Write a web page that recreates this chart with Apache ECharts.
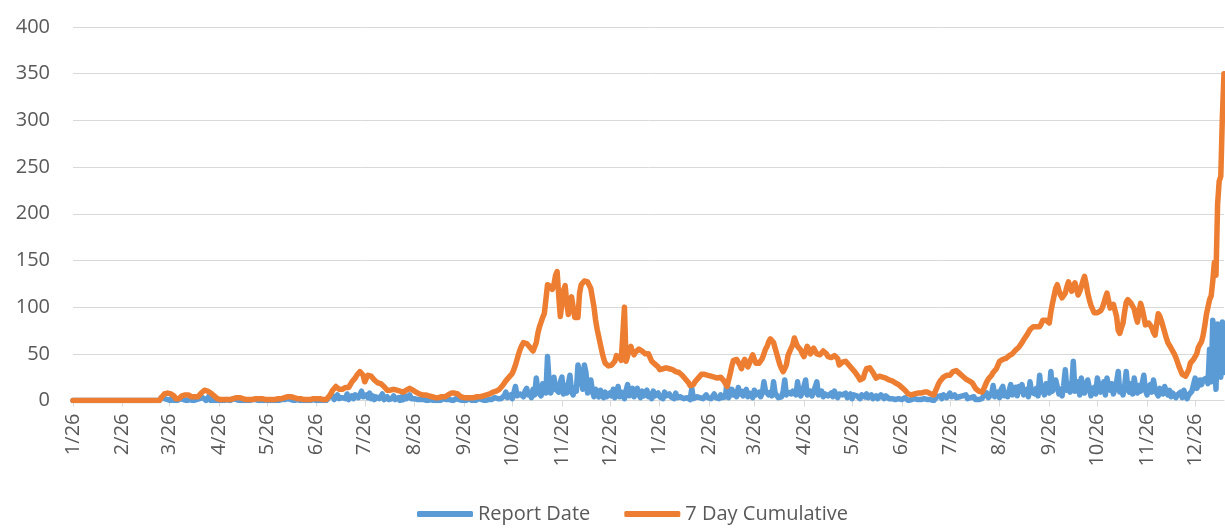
<!DOCTYPE html>
<html>
<head>
<meta charset="utf-8">
<title>Report Date vs 7 Day Cumulative</title>
<script src="https://cdn.jsdelivr.net/npm/echarts@6.0.0/dist/echarts.min.js"></script>
<style>
  html, body { margin: 0; padding: 0; background: #fff; }
  #chart { width: 1225px; height: 529px; }
</style>
</head>
<body>
<div id="chart"></div>
<script>
  // daily series, first day 2020-01-26, last day 2022-01-13
  const startDate = '2020-01-26'
  const dayCount = 719

  const yTicks = [0, 50, 100, 150, 200, 250, 300, 350, 400]

  // daily new reports (blue)
  const reportDate = [
    0,0,0,0,0,0,0,0,0,0, 0,0,0,0,0,0,0,0,0,0, 0,0,0,0,0,0,0,0,0,0, 0,0,0,0,0,0,0,0,0,0, 0,0,0,0,0,0,0,0,0,0,
    0,0,0,0,0,3,2,2,0,1, 0,0,4,0,0,0,1,2,1,1, 2,0,1,1,0,0,1,1,1,2, 4,3,1,0,1,5,0,0,0,1,
    0,0,0,1,0,0,1,0,0,1, 2,0,1,0,0,1,0,0,0,1, 0,0,1,0,1,0,0,1,0,0, 0,1,0,0,0,1,0,1,0,0,
    1,0,1,1,2,0,1,1,0,0, 1,0,0,1,0,0,0,1,0,0, 1,0,0,1,0,0,0,1,0,2,
    4,2,5,1,3,6,2,0,3,4, 2,7,1,3,5,2,6,8,3,5, 10,4,2,6,3,8,2,5,1,4, 6,2,3,7,1,2,4,1,3,2,
    5,1,2,3,0,4,1,5,2,1, 6,2,1,2,0,1,3,1,0,1, 2,0,0,1,1,0,2,0,1,0, 1,2,0,1,2,1,3,0,1,2,
    0,1,0,0,1,0,1,2,0,0, 1,0,1,2,0,1,1,0,2,1, 2,1,0,3,1,2,4,2,1,5,
    9,3,4,6,2,8,15,5,3,7, 8,4,10,13,6,9,3,12,6,24, 10,11,5,18,14,8,47,20,8,14,
    25,12,11,9,20,25,7,16,8,18, 27,9,6,14,10,38,38,24,12,38, 30,8,15,22,10,4,12,7,4,11,
    6,3,9,4,2,8,5,12,3,7, 15,4,9,6,2,11,17,5,8,13, 4,9,13,6,3,10,5,8,11,4,
    7,2,10,5,3,8,4,6,2,9, 5,3,7,4,6,2,8,3,5,4, 6,2,4,3,5,1,13,2,3,4, 6,3,5,2,4,6,3,5,2,4,
    7,3,4,2,6,3,1,4,20,3, 8,12,6,9,4,14,7,10,5,9, 12,4,8,10,3,11,6,5,9,4, 8,20,10,12,6,9,5,20,8,6,
    3,5,4,10,22,6,9,11,7,10, 12,6,20,8,5,9,7,22,6,8, 10,5,9,7,20,6,8,10,4,7,
    9,5,6,8,4,10,6,3,7,5, 6,4,8,3,5,7,2,6,4,5, 3,2,6,8,4,7,3,5,6,2,
    4,5,2,3,6,4,2,5,3,2, 4,2,3,1,3,2,4,1,2,3, 1,0,2,1,1,2,0,1,2,1, 1,2,0,1,2,1,3,0,2,4,
    3,5,2,6,4,3,5,8,4,2, 6,3,5,4,2,5,3,6,2,4, 3,2,4,1,2,1,3,2,5,4,
    8,3,5,7,16,4,6,9,3,12, 15,5,8,4,11,17,6,9,14,5, 15,10,17,6,8,12,4,20,9,11,
    7,13,5,27,9,14,6,18,12,8, 31,10,15,22,24,7,12,5,16,33, 11,18,9,14,42,10,16,20,6,24,
    13,8,17,22,20,5,11,14,7,24, 16,9,13,20,6,24,15,11,18,7, 12,20,31,9,14,6,15,31,12,9,
    18,7,24,13,8,16,10,9,27,11, 6,14,17,9,22,12,8,5,13,10, 7,15,9,6,11,4,8,7,3,6,
    4,9,3,11,5,2,6,4,10,8, 24,13,16,22,17,22,20,24,18,55, 20,86,84,12,82,80,25,84,30
  ]

  // rolling 7 day total (orange)
  const sevenDay = [
    0,0,0,0,0,0,0,0,0,0, 0,0,0,0,0,0,0,0,0,0, 0,0,0,0,0,0,0,0,0,0, 0,0,0,0,0,0,0,0,0,0, 0,0,0,0,0,0,0,0,0,0,
    0,0,0,0,0,3,5,7,7,8, 8,7,8,5,2,1,2,4,5,5, 6,5,6,6,4,3,4,4,4,5, 8,10,11,10,10,9,8,6,5,3,
    2,1,1,1,1,1,1,1,1,2, 2,2,3,3,3,2,2,1,1,1, 1,1,1,2,2,2,2,2,2,1, 1,1,1,1,1,1,1,2,2,2,
    2,2,3,3,4,4,4,4,3,3, 2,2,2,1,1,1,1,1,1,2, 2,2,2,2,2,1,1,1,1,3,
    5,8,11,13,15,14,12,11,12,13, 14,14,14,17,20,22,24,27,29,31, 33,27,20,24,27,29,26,24,22,21, 19,18,18,17,15,13,11,10,11,11,
    12,11,11,10,10,9,9,10,11,12, 13,13,11,10,9,8,7,7,6,6, 6,5,5,4,4,4,3,3,3,3, 4,4,4,5,6,7,8,8,8,8,
    7,5,4,3,3,3,3,3,3,3, 3,3,4,4,4,4,5,6,6,7, 7,8,9,9,10,11,12,14,16,18,
    21,23,25,27,29,33,38,44,50,55, 59,62,63,61,59,57,55,53,53,62, 72,79,84,89,93,108,124,126,122,119,
    124,134,138,112,90,104,118,123,105,92, 102,111,100,89,88,89,115,124,126,128, 127,127,127,120,110,100,86,76,68,60,
    52,45,40,38,37,37,38,38,42,48, 49,46,43,45,100,42,48,55,58,52, 49,52,50,55,54,53,51,50,52,50,
    46,42,41,39,38,36,33,31,34,36, 35,35,34,33,33,32,31,31,30,29, 27,25,23,22,19,16,14,17,20,22, 24,26,28,29,28,28,27,27,26,26,
    25,24,24,25,25,25,21,18,15,22, 29,37,43,45,44,43,38,34,40,44, 40,36,40,45,49,44,40,40,40,40, 45,50,55,58,63,66,64,62,56,50,
    44,38,34,31,34,38,48,52,54,60, 67,62,58,56,54,50,47,52,58,55, 50,52,56,53,50,49,49,51,53,54,
    50,47,45,46,47,48,49,45,38,39, 41,42,42,40,38,36,34,32,30,29, 25,22,20,24,30,34,36,35,33,30,
    27,24,25,26,26,25,25,24,23,22, 22,21,20,19,18,17,15,14,13,11, 9,7,6,6,7,7,7,8,8,8, 9,9,9,9,9,7,6,6,10,14,
    18,21,23,25,26,27,27,27,29,31, 33,32,30,29,28,26,24,23,22,21, 20,19,16,13,11,10,10,9,12,16,
    20,23,25,27,30,32,34,38,42,43, 44,45,45,46,48,49,50,52,54,55, 57,59,62,65,67,70,73,76,78,79,
    80,79,78,79,82,86,88,86,84,83, 95,104,112,120,124,118,113,110,108,115, 122,127,122,117,122,126,120,113,117,122,
    128,133,125,115,108,102,98,94,93,94, 94,96,99,104,110,115,107,99,101,103, 104,90,75,72,78,83,95,105,108,106,
    104,104,98,90,84,95,104,98,90,81, 82,83,84,78,73,70,82,93,90,85, 79,73,67,62,59,56,53,50,46,41,
    36,32,28,26,26,27,33,40,42,44, 45,50,57,60,63,70,80,92,100,108, 112,128,148,134,210,235,240,305,350
  ]

  const dates = []
  const d0 = new Date(startDate + 'T00:00:00Z')
  for (let i = 0; i < dayCount; i++) {
    const d = new Date(d0.getTime() + i * 86400000)
    dates.push(d.toISOString().slice(0, 10))
  }

  const shortDate = (s) => Number(s.slice(5, 7)) + '/' + Number(s.slice(8, 10))
  const onThe26th = (index, value) => value.slice(8, 10) === '26'

  const textColor = '#595959'
  const gridColor = '#D9D9D9'
  const fontFamily = '"Open Sans", "Noto Sans", sans-serif'

  const chart = echarts.init(document.getElementById('chart'))

  const option = {
    animation: false,
    backgroundColor: '#fff',
    textStyle: { fontFamily: fontFamily },
    grid: { left: 73, right: 1, top: 27, bottom: 128.5, containLabel: false },
    legend: {
      left: 412,
      top: 499,
      icon: 'roundRect',
      itemWidth: 56,
      itemHeight: 6,
      itemGap: 34,
      textStyle: { fontSize: 20, color: textColor, fontFamily: fontFamily },
      data: ['Report Date', '7 Day Cumulative']
    },
    xAxis: {
      type: 'category',
      data: dates,
      boundaryGap: false,
      axisLine: { show: true, lineStyle: { color: gridColor, width: 1 } },
      axisTick: { show: true, interval: onThe26th, length: 6, lineStyle: { color: gridColor } },
      axisLabel: {
        interval: onThe26th,
        rotate: 90,
        margin: 13,
        fontSize: 20,
        color: textColor,
        fontFamily: fontFamily,
        formatter: shortDate
      },
      splitLine: { show: false }
    },
    yAxis: {
      type: 'value',
      min: yTicks[0],
      max: yTicks[yTicks.length - 1],
      interval: yTicks[1] - yTicks[0],
      axisLine: { show: false },
      axisTick: { show: false },
      axisLabel: { fontSize: 20, color: textColor, margin: 23, fontFamily: fontFamily },
      splitLine: { lineStyle: { color: gridColor, width: 1 } }
    },
    series: [
      {
        name: 'Report Date',
        type: 'line',
        data: reportDate,
        symbol: 'none',
        itemStyle: { color: '#5B9BD5' },
        lineStyle: { color: '#5B9BD5', width: 5.5, join: 'round', cap: 'round' }
      },
      {
        name: '7 Day Cumulative',
        type: 'line',
        data: sevenDay,
        symbol: 'none',
        itemStyle: { color: '#ED7D31' },
        lineStyle: { color: '#ED7D31', width: 5.5, join: 'round', cap: 'round' }
      }
    ]
  }

  chart.setOption(option)
</script>
</body>
</html>
